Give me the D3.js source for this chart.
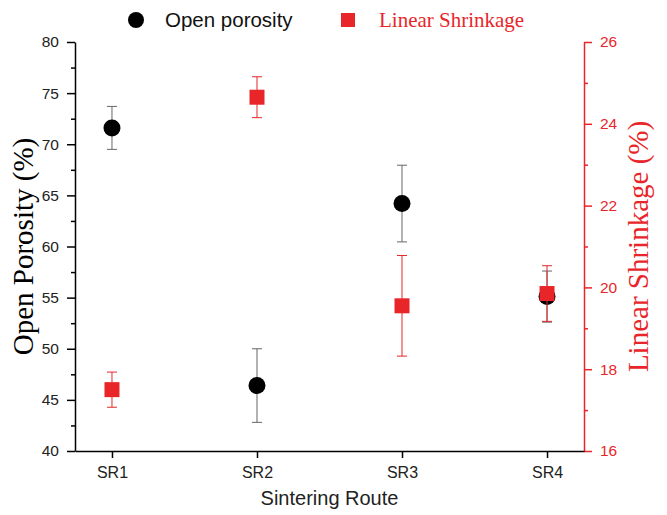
<!DOCTYPE html>
<html>
<head>
<meta charset="utf-8">
<script src="https://cdn.jsdelivr.net/npm/d3@7"></script>
<style>
  body { margin: 0; background: #fff; }
  svg { display: block; }
</style>
</head>
<body>
<svg class="viz" width="667" height="515"></svg>
<script>
// data
var routes = ["SR1", "SR2", "SR3", "SR4"];
var porosity = [71.6, 46.4, 64.2, 55.1];
var porosityErr = [2.1, 3.6, 3.75, 2.5];
var shrinkage = [17.5, 24.65, 19.55, 19.85];
var shrinkageErr = [0.43, 0.5, 1.23, 0.68];
var leftTicks = [40, 45, 50, 55, 60, 65, 70, 75, 80];
var rightTicks = [16, 18, 20, 22, 24, 26];

var red = "#e8262a";
var sans = "Liberation Sans, Arial, sans-serif";
var serif = "Liberation Serif, Times New Roman, serif";

var svg = d3.select(".viz"),
    margin = {top: 42, right: 83, bottom: 64, left: 75},
    width = +svg.attr("width") - margin.left - margin.right,
    height = +svg.attr("height") - margin.top - margin.bottom;

var g = svg.append("g")
    .attr("transform", "translate(" + margin.left + "," + margin.top + ")");

var x = d3.scaleLinear().domain([0.745, 4.255]).range([0, width]);
var yL = d3.scaleLinear().domain([40, 80]).range([height, 0]);
var yR = d3.scaleLinear().domain([16, 26]).range([height, 0]);

// left axis with minor ticks
var minorL = d3.range(42.5, 80, 5);
g.append("g")
    .call(d3.axisLeft(yL).tickValues(minorL).tickSize(4).tickFormat(""))
    .call(function(a) { a.select(".domain").remove(); })
    .selectAll("line").attr("stroke-width", 1.5);
var axL = g.append("g")
    .call(d3.axisLeft(yL).tickValues(leftTicks).tickSize(8).tickSizeOuter(0).tickPadding(8));
axL.select(".domain").attr("stroke-width", 1.5);
axL.selectAll("line").attr("stroke-width", 1.5);
axL.selectAll("text").attr("font-family", sans).attr("font-size", 15.5).attr("fill", "#222");

// right axis
var minorR = d3.range(17, 26, 2);
g.append("g")
    .attr("transform", "translate(" + width + ",0)")
    .call(d3.axisRight(yR).tickValues(minorR).tickSize(4).tickFormat(""))
    .call(function(a) { a.select(".domain").remove(); })
    .selectAll("line").attr("stroke", red).attr("stroke-width", 1.5);
var axR = g.append("g")
    .attr("transform", "translate(" + width + ",0)")
    .call(d3.axisRight(yR).tickValues(rightTicks).tickSize(8).tickSizeOuter(0).tickPadding(8));
axR.select(".domain").attr("stroke", red).attr("stroke-width", 1.5);
axR.selectAll("line").attr("stroke", red).attr("stroke-width", 1.5);
axR.selectAll("text").attr("fill", red).attr("font-family", sans).attr("font-size", 15.5);

// bottom axis
var axB = g.append("g")
    .attr("transform", "translate(0," + height + ")")
    .call(d3.axisBottom(x).tickValues([1, 2, 3, 4]).tickSize(7).tickSizeOuter(0).tickPadding(9)
      .tickFormat(function(d) { return routes[d - 1]; }));
axB.select(".domain").attr("stroke-width", 1.5);
axB.selectAll("line").attr("stroke-width", 1.5);
axB.selectAll("text").attr("font-family", sans).attr("font-size", 16).attr("fill", "#222");

// axis titles
svg.append("text")
    .attr("x", margin.left + width / 2).attr("y", 505)
    .attr("text-anchor", "middle")
    .attr("font-family", sans).attr("font-size", 20).attr("fill", "#222")
    .text("Sintering Route");

svg.append("text")
    .attr("transform", "translate(33," + (margin.top + height / 2) + ") rotate(-90)")
    .attr("text-anchor", "middle")
    .attr("font-family", serif).attr("font-size", 29).attr("fill", "#000")
    .text("Open Porosity (%)");

svg.append("text")
    .attr("transform", "translate(648," + (margin.top + height / 2) + ") rotate(-90)")
    .attr("text-anchor", "middle")
    .attr("font-family", serif).attr("font-size", 29).attr("fill", red)
    .text("Linear Shrinkage (%)");

// error bars helper
function errorBars(vals, errs, scale, color) {
  var eb = g.append("g");
  vals.forEach(function(v, i) {
    var cx = x(i + 1), top = scale(v + errs[i]), bot = scale(v - errs[i]);
    eb.append("line").attr("x1", cx).attr("x2", cx).attr("y1", top).attr("y2", bot)
      .attr("stroke", color).attr("stroke-width", 1);
    [top, bot].forEach(function(yy) {
      eb.append("line").attr("x1", cx - 5).attr("x2", cx + 5).attr("y1", yy).attr("y2", yy)
        .attr("stroke", color).attr("stroke-width", 1);
    });
  });
}

errorBars(porosity, porosityErr, yL, "#666");
g.selectAll(".por").data(porosity).enter().append("circle")
    .attr("cx", function(d, i) { return x(i + 1); })
    .attr("cy", function(d) { return yL(d); })
    .attr("r", 8.5)
    .attr("fill", "#000");

errorBars(shrinkage, shrinkageErr, yR, red);
g.selectAll(".shr").data(shrinkage).enter().append("rect")
    .attr("x", function(d, i) { return x(i + 1) - 7.5; })
    .attr("y", function(d) { return yR(d) - 7.5; })
    .attr("width", 15).attr("height", 15)
    .attr("fill", red);

// legend
var leg = svg.append("g");
leg.append("circle").attr("cx", 136).attr("cy", 20).attr("r", 8).attr("fill", "#000");
leg.append("text").attr("x", 165).attr("y", 27)
    .attr("font-family", sans).attr("font-size", 20.5).attr("fill", "#111")
    .text("Open porosity");
leg.append("rect").attr("x", 341).attr("y", 13).attr("width", 14).attr("height", 14).attr("fill", red);
leg.append("text").attr("x", 379).attr("y", 27)
    .attr("font-family", serif).attr("font-size", 21).attr("fill", red)
    .text("Linear Shrinkage");
</script>
</body>
</html>
